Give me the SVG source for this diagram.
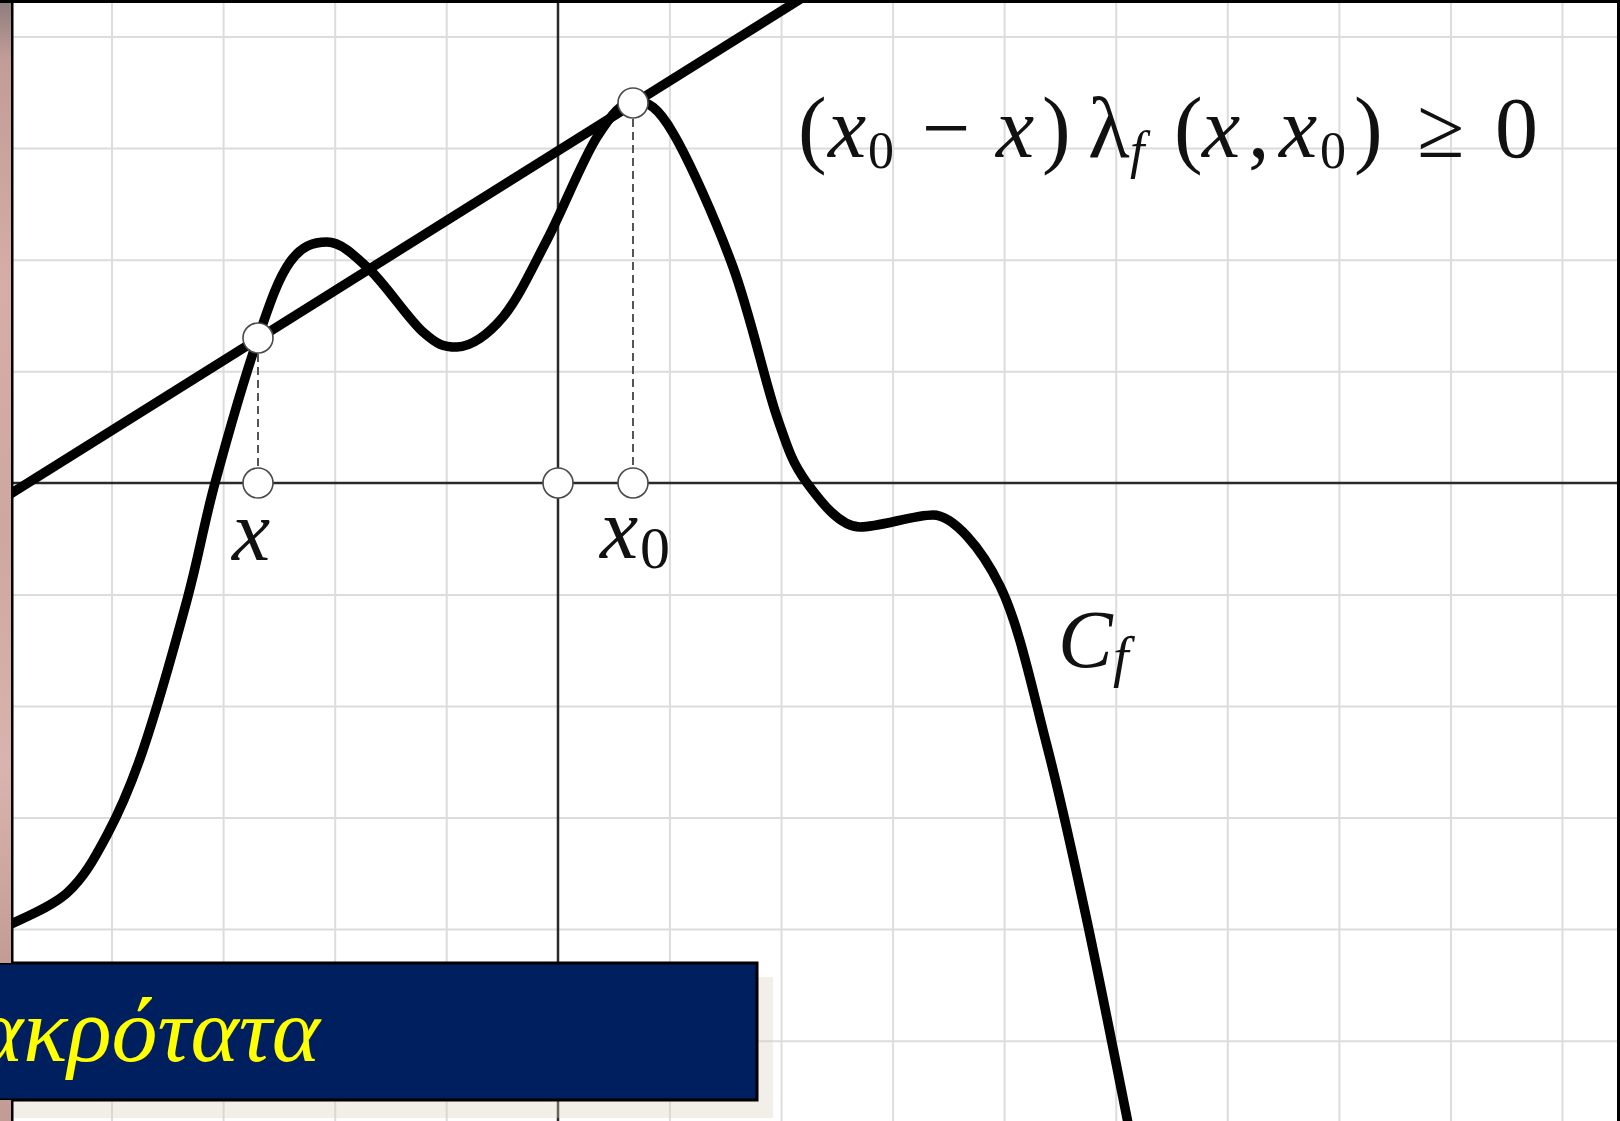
<svg xmlns="http://www.w3.org/2000/svg" width="1620" height="1121" viewBox="0 0 1620 1121">
<defs>
<linearGradient id="strip" x1="0" y1="0" x2="0" y2="1">
<stop offset="0" stop-color="#8c7d7d"/>
<stop offset="0.06" stop-color="#c29c97"/>
<stop offset="0.3" stop-color="#d6ada7"/>
<stop offset="0.55" stop-color="#cfa7a1"/>
<stop offset="0.8" stop-color="#d9b3ad"/>
<stop offset="1" stop-color="#c49c96"/>
</linearGradient>
<style>
.grid{stroke:#dcdcdc;stroke-width:2;fill:none}
.axis{stroke:#2a2a2a;stroke-width:2.5;fill:none}
.thick{stroke:#000;stroke-width:9.5;fill:none;stroke-linecap:butt;stroke-linejoin:round}
.dash{stroke:#555;stroke-width:2;stroke-dasharray:8 5;fill:none}
.pt{fill:#fff;stroke:#4a4a4a;stroke-width:1.6}
.m{font-family:"Liberation Serif","DejaVu Serif",serif;fill:#111}
.it{font-style:italic}
</style>
</defs>
<rect x="0" y="0" width="1620" height="1121" fill="#fff"/>
<g id="grid">
<path class="grid" d="M112 0V1121M223.6 0V1121M335.2 0V1121M446.7 0V1121M669.9 0V1121M781.5 0V1121M893.1 0V1121M1004.6 0V1121M1116.2 0V1121M1227.8 0V1121M1339.4 0V1121M1451 0V1121M1562.5 0V1121"/>
<path class="grid" d="M0 37H1620M0 148.6H1620M0 260.2H1620M0 371.7H1620M0 594.9H1620M0 706.5H1620M0 818.1H1620M0 929.6H1620M0 1041.2H1620"/>
</g>
<g id="axes">
<path class="axis" d="M558 0V1121M0 483H1620"/>
</g>
<rect id="box-shadow" x="13" y="977" width="760" height="141" fill="#d6d2bd" opacity="0.35"/>
<g id="connectors">
<path id="curve-cf" class="thick" d="M5 927C19.5 919.2 50 908.3 67 893C84 877.7 94.3 858.8 107 835C119.7 811.2 129.7 789.2 143 750C156.3 710.8 175 644.5 187 600C199 555.5 203.2 526.7 215 483C226.8 439.3 245.5 374.8 258 338C270.5 301.2 278.5 278 290 262C301.5 246 313 242 327 242C341 242 354 255 370 270C386 285 408.5 319.2 423 332C437.5 344.8 443 347 457 347C471 347 488 334.8 503 317C518 299.2 531.3 270 547 240C562.7 210 582.3 160.2 597 137C611.7 113.8 622.3 101 635 101C647.7 101 658 107 673 133C689.3 160.7 715.7 219.7 733 267C750.3 314.3 764.7 381 777 417C789.3 453 793.2 464.2 807 483C820.8 501.8 840 527 860 527C880 527 913 515 933 515C953 515 981 547.5 1000 586C1019 624.5 1032.5 690.2 1047 746C1061.5 801.8 1073.7 859 1087 921C1100.3 983 1119 1078.2 1127 1118L1135 1160"/>
<path id="secant" class="thick" d="M0 500.4L810 -7"/>
<path id="drop-x" class="dash" d="M258 354V468"/>
<path id="drop-x0" class="dash" d="M633 119V468"/>
</g>
<g id="point-x-curve"><circle class="pt" cx="258" cy="338" r="15"/></g>
<g id="point-x0-curve"><circle class="pt" cx="633" cy="103" r="15"/></g>
<g id="point-x-axis"><circle class="pt" cx="258" cy="483" r="15"/></g>
<g id="point-origin"><circle class="pt" cx="558" cy="483" r="15"/></g>
<g id="point-x0-axis"><circle class="pt" cx="633" cy="483" r="15"/></g>
<g id="label-x"><text class="m it" x="232" y="560" font-size="86">x</text></g>
<g id="label-x0"><text class="m" x="600" y="558" font-size="86"><tspan class="it">x</tspan><tspan x="640" y="568" font-size="60">0</tspan></text></g>
<g id="label-cf"><text class="m" x="1058" y="667" font-size="82"><tspan class="it">C</tspan><tspan class="it" x="1113" y="676" font-size="56">f</tspan></text></g>
<g id="formula">
<text class="m" y="157" font-size="86"><tspan x="798">(</tspan><tspan class="it" x="828">x</tspan><tspan x="868" y="168" font-size="52">0</tspan><tspan x="922" y="157">−</tspan><tspan class="it" x="996">x</tspan><tspan x="1042">)</tspan><tspan x="1088">λ</tspan><tspan class="it" x="1130" y="168" font-size="52">f</tspan><tspan x="1174" y="157">(</tspan><tspan class="it" x="1202">x</tspan><tspan x="1248">,</tspan><tspan class="it" x="1279">x</tspan><tspan x="1320" y="168" font-size="52">0</tspan><tspan x="1354" y="157">)</tspan><tspan x="1417">≥</tspan><tspan x="1495">0</tspan></text>
</g>
<g id="title-box">
<rect x="-10" y="963" width="767" height="137" fill="#001f5f" stroke="#000" stroke-width="3"/>
<text x="320" y="1061" font-family="Liberation Serif, DejaVu Serif, serif" font-style="italic" font-size="92" fill="#ffff00" text-anchor="end">ακρότατα</text>
</g>
<g id="frame">
<rect x="0" y="0" width="11" height="963" fill="url(#strip)"/>
<rect x="0" y="1100" width="11" height="21" fill="#c49c96"/>
<rect x="11" y="0" width="2.5" height="963" fill="#000"/>
<rect x="11" y="1100" width="2.5" height="21" fill="#000"/>
<rect x="0" y="0" width="1620" height="3" fill="#000"/>
<rect x="1617" y="0" width="3" height="1121" fill="#000"/>
</g>
</svg>
